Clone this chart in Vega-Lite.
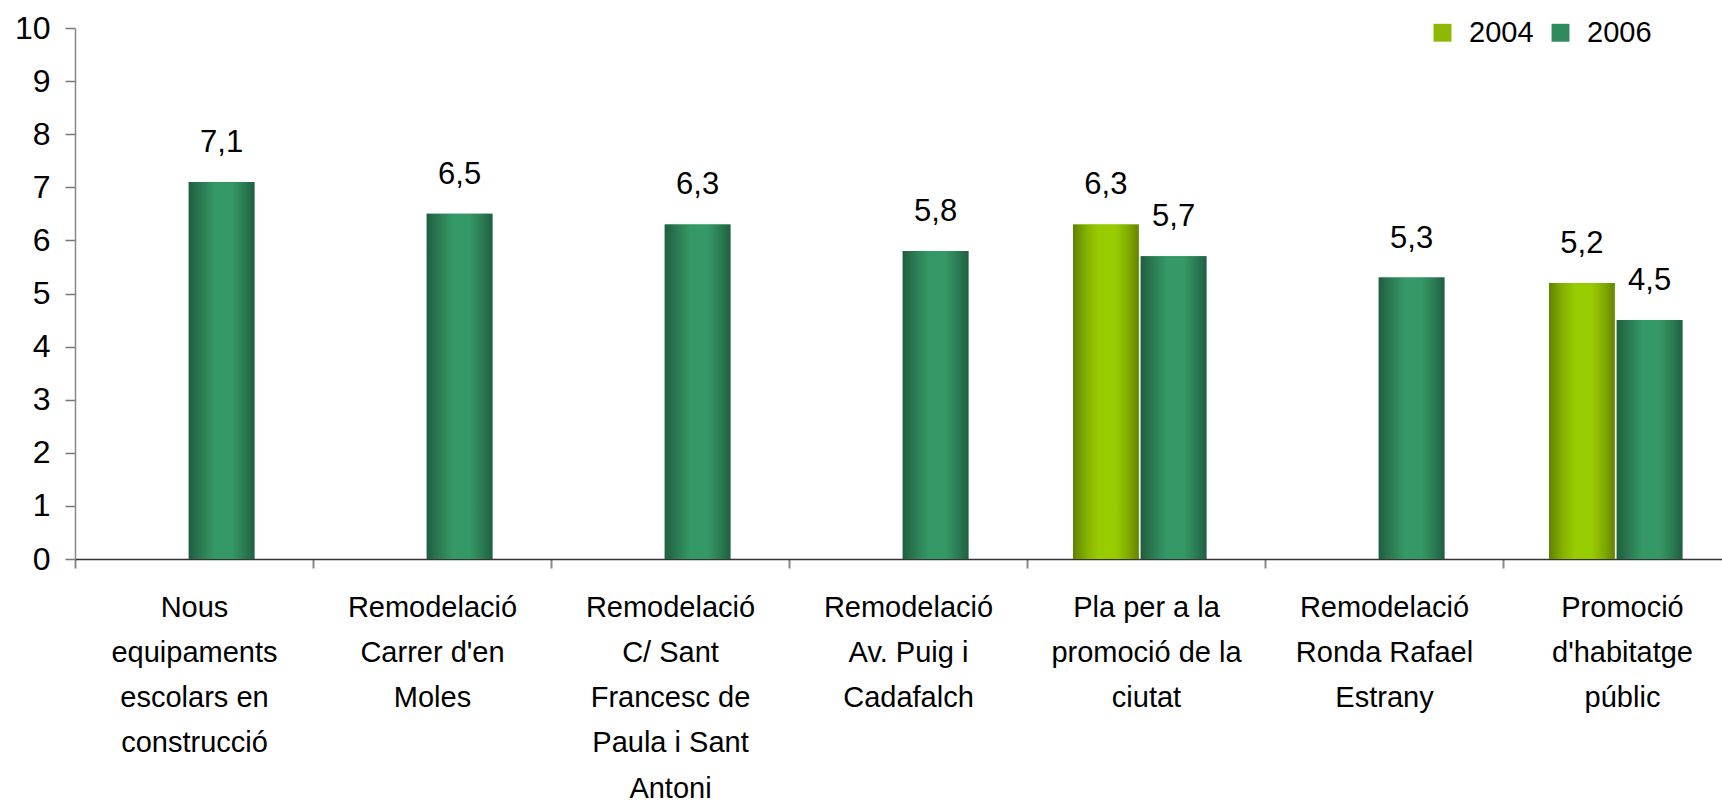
{
  "$schema": "https://vega.github.io/schema/vega-lite/v6.json",
  "width": 1666,
  "height": 531,
  "autosize": {"type": "none"},
  "padding": {"left": 75, "top": 28, "right": 0, "bottom": 246},
  "background": "white",
  "config": {
    "view": {"stroke": null},
    "font": "Liberation Sans",
    "locale": {"number": {"decimal": ",", "thousands": ".", "grouping": [3], "currency": ["", " €"]}}
  },
  "data": {
    "values": [
      {"cat": "Nous|equipaments|escolars en|construcció", "order": 1, "year": "2006", "value": 7.1},
      {"cat": "Remodelació|Carrer d'en|Moles", "order": 2, "year": "2006", "value": 6.5},
      {"cat": "Remodelació|C/ Sant|Francesc de|Paula i Sant|Antoni", "order": 3, "year": "2006", "value": 6.3},
      {"cat": "Remodelació|Av. Puig i|Cadafalch", "order": 4, "year": "2006", "value": 5.8},
      {"cat": "Pla per a la|promoció de la|ciutat", "order": 5, "year": "2004", "value": 6.3},
      {"cat": "Pla per a la|promoció de la|ciutat", "order": 5, "year": "2006", "value": 5.7},
      {"cat": "Remodelació|Ronda Rafael|Estrany", "order": 6, "year": "2006", "value": 5.3},
      {"cat": "Promoció|d'habitatge|públic", "order": 7, "year": "2004", "value": 5.2},
      {"cat": "Promoció|d'habitatge|públic", "order": 7, "year": "2006", "value": 4.5}
    ]
  },
  "encoding": {
    "x": {
      "field": "cat", "type": "nominal", "sort": {"field": "order", "op": "min"},
      "scale": {"paddingInner": 0, "paddingOuter": 0},
      "axis": {
        "title": null, "labelAngle": 0, "labelExpr": "split(datum.label, '|')",
        "labelFont": "Liberation Sans", "labelFontSize": 29, "labelLineHeight": 45.3,
        "labelColor": "black", "labelPadding": 25, "labelBaseline": "top", "labelLimit": 300,
        "labelOverlap": false,
        "tickBand": "extent", "tickSize": 9, "tickColor": "#888888", "tickWidth": 2,
        "domainColor": "#333333", "domainWidth": 1.5, "grid": false
      }
    },
    "xOffset": {"field": "year", "type": "nominal", "scale": {"domain": ["2004", "2006"], "paddingInner": 0.03, "paddingOuter": 0.7725, "align": 0.44}},
    "y": {
      "field": "value", "type": "quantitative",
      "scale": {"domain": [0, 10], "nice": false},
      "axis": {
        "title": null, "values": [0,1,2,3,4,5,6,7,8,9,10], "labelOverlap": false,
        "labelFontSize": 32, "labelColor": "black", "labelPadding": 15,
        "tickSize": 10, "tickColor": "#777777", "tickWidth": 1.5,
        "domainColor": "#888888", "domainWidth": 1.5, "grid": false
      }
    }
  },
  "layer": [
    {
      "mark": {"type": "bar", "cornerRadius": 0},
      "encoding": {
        "color": {
          "field": "year", "type": "nominal",
          "scale": {"domain": ["2004", "2006"], "range": ["#8cb800", "#2e8a5c"]},
          "legend": {
            "title": null, "orient": "none", "direction": "horizontal",
            "legendX": 1353, "legendY": -10,
            "symbolType": "square", "symbolSize": 320, "symbolStrokeWidth": 0,
            "labelFontSize": 29, "labelColor": "black", "labelOffset": 12,
            "columnPadding": 12
          }
        }
      }
    },
    {
      "mark": {"type": "bar"},
      "encoding": {
        "fill": {
          "condition": {
            "test": "datum.year === '2004'",
            "value": {
              "gradient": "linear", "x1": 0, "y1": 0, "x2": 1, "y2": 0,
              "stops": [
                {"offset": 0, "color": "#5f8200"},
                {"offset": 0.2, "color": "#86b000"},
                {"offset": 0.4, "color": "#99cc00"},
                {"offset": 0.65, "color": "#99cc00"},
                {"offset": 0.85, "color": "#80a800"},
                {"offset": 1, "color": "#628500"}
              ]
            }
          },
          "value": {
            "gradient": "linear", "x1": 0, "y1": 0, "x2": 1, "y2": 0,
            "stops": [
              {"offset": 0, "color": "#1f5e40"},
              {"offset": 0.2, "color": "#2b7d53"},
              {"offset": 0.4, "color": "#349966"},
              {"offset": 0.65, "color": "#349966"},
              {"offset": 0.85, "color": "#2a7a52"},
              {"offset": 1, "color": "#215f42"}
            ]
          }
        }
      }
    },
    {
      "mark": {"type": "text", "baseline": "alphabetic", "dy": -30, "fontSize": 31, "color": "black", "font": "Liberation Sans"},
      "encoding": {
        "text": {"field": "value", "type": "quantitative", "format": ".1f"}
      }
    }
  ]
}
